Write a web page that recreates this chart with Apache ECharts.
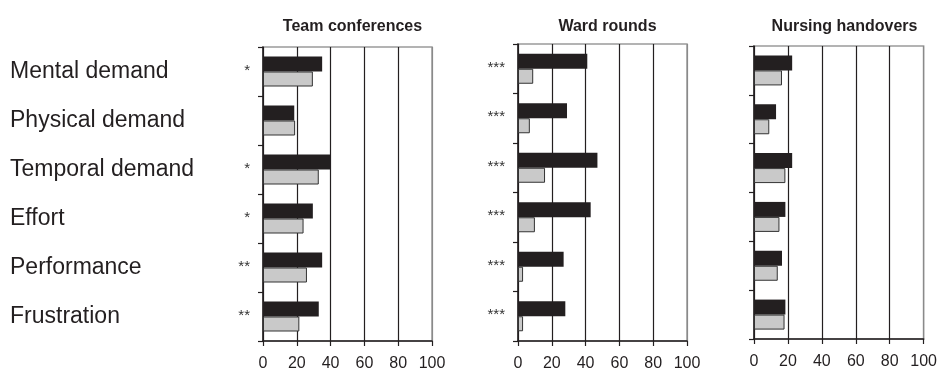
<!DOCTYPE html>
<html>
<head>
<meta charset="utf-8">
<script src="https://cdn.jsdelivr.net/npm/echarts@6/dist/echarts.min.js"></script>
<style>
html,body{margin:0;padding:0;background:#fff;}
#c{width:940px;height:373px;}
</style>
</head>
<body>
<div id="c"></div>
<script>
var categories = ['Mental demand','Physical demand','Temporal demand','Effort','Performance','Frustration'];
var panelTitles = ['Team conferences','Ward rounds','Nursing handovers'];
var xTicks = [0,20,40,60,80,100];
var teamBlack = [35, 18.5, 40, 29.5, 35, 33];
var teamGrey  = [29.5, 19, 33, 24, 26, 21.5];
var wardBlack = [41, 29, 47, 43, 27, 28];
var wardGrey  = [9, 7, 16, 10, 3, 3];
var nurseBlack = [22.5, 13, 22.5, 18.5, 16.5, 18.5];
var nurseGrey  = [16.5, 9, 18.5, 15, 14, 18];
var teamSig  = ['*','','*','*','**','**'];
var wardSig  = ['***','***','***','***','***','***'];
var nurseSig = ['','','','','',''];

var FONT = 'Liberation Sans, Arial, Helvetica, sans-serif';
var grids = [
  {left:263, top:47, width:169, height:294},
  {left:518, top:44, width:169, height:297},
  {left:754, top:46, width:171, height:293}
];
var blackSets = [teamBlack, wardBlack, nurseBlack];
var greySets = [teamGrey, wardGrey, nurseGrey];
var sigSets = [teamSig, wardSig, nurseSig];

var option = {
  backgroundColor:'#fff',
  animation:false,
  title: grids.map(function(g,i){
    return {text:panelTitles[i], left:g.left+g.width/2, top:14, textAlign:'center',
      textStyle:{fontFamily:FONT, fontSize:16, fontWeight:'bold', color:'#231f20'}};
  }),
  grid: grids.map(function(g){
    return {left:g.left, top:g.top, width:g.width, height:g.height, show:true,
      borderColor:'#9a9a9a', borderWidth:1.5, backgroundColor:'transparent', containLabel:false};
  }),
  xAxis: grids.map(function(g,i){
    return {type:'value', gridIndex:i, min:0, max:100, interval:20,
      axisLine:{show:true, lineStyle:{color:'#231f20', width:1.5}},
      axisTick:{show:true, length:5, lineStyle:{color:'#231f20', width:1.2}},
      axisLabel:{fontFamily:FONT, fontSize:16, color:'#231f20', margin:15,
        formatter:function(v){ return xTicks.indexOf(v)>=0 ? String(v) : ''; }},
      splitLine:{show:true, lineStyle:{color:['#231f20','#231f20','#231f20','#231f20','#231f20','#8a8a8a'], width:1.2}}
    };
  }),
  yAxis: [],
  series: []
};

grids.forEach(function(g,i){
  var sig = sigSets[i];
  option.yAxis.push({type:'category', gridIndex:i, data:categories, inverse:true,
    axisLine:{show:true, lineStyle:{color:'#231f20', width:1.5}},
    axisTick:{show:true, length:5, lineStyle:{color:'#231f20', width:1.2}},
    axisLabel:{show:true, fontFamily:FONT, fontSize:15, color:'#333', margin:13,
      verticalAlign:'bottom', lineHeight:2,
      formatter:function(v, idx){ return sig[idx]; }},
    splitLine:{show:false}
  });
});
// category names on the far left, attached to the first panel
option.yAxis.push({type:'category', gridIndex:0, data:categories, inverse:true, position:'left',
  axisLine:{show:false}, axisTick:{show:false}, splitLine:{show:false},
  axisLabel:{show:true, fontFamily:FONT, fontSize:23, color:'#231f20', align:'left', margin:253}
});

grids.forEach(function(g,i){
  option.series.push({type:'bar', xAxisIndex:i, yAxisIndex:i, data:blackSets[i],
    barWidth:15, barGap:'0%', itemStyle:{color:'#231f20'}});
  option.series.push({type:'bar', xAxisIndex:i, yAxisIndex:i, data:greySets[i],
    barWidth:15, barGap:'0%', itemStyle:{color:'#c9c9c9', borderColor:'#333', borderWidth:1}});
});

var chart = echarts.init(document.getElementById('c'), null, {renderer:'canvas'});
chart.setOption(option);
</script>
</body>
</html>
